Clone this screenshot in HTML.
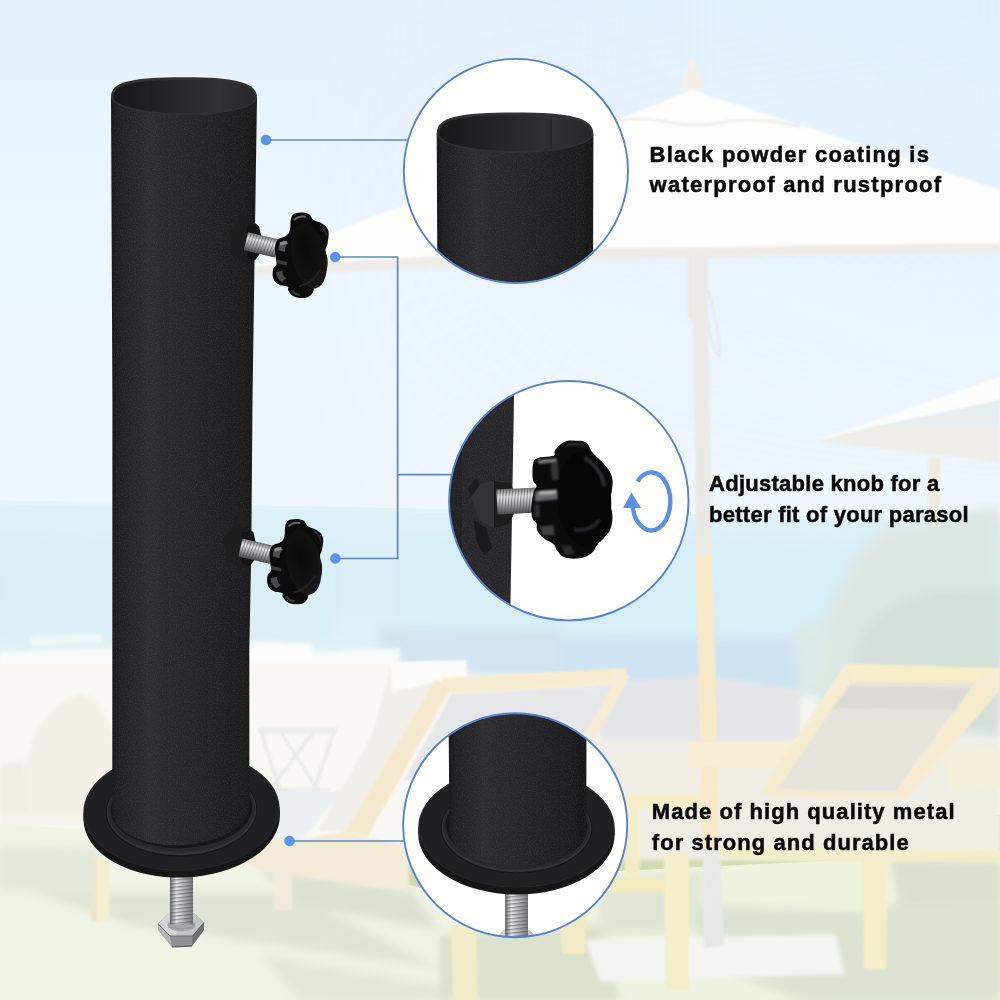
<!DOCTYPE html>
<html lang="en">
<head>
<meta charset="utf-8">
<title>Parasol base tube features</title>
<style>
html,body{margin:0;padding:0;background:#fff;}
body{width:1000px;height:1000px;position:relative;overflow:hidden;font-family:"Liberation Sans",Arial,sans-serif;}
#art{position:absolute;left:0;top:0;width:1000px;height:1000px;display:block;}
.cap{position:absolute;margin:0;font-weight:700;font-size:22px;color:#0a0a0a;white-space:nowrap;line-height:29px;-webkit-text-stroke:0.5px #0a0a0a;}
#cap1{left:649.6px;top:139.8px;letter-spacing:1.25px;line-height:29.7px;}
#cap2{left:709.1px;top:468.8px;letter-spacing:0.26px;line-height:30.7px;}
#cap3{left:651.8px;top:797.2px;letter-spacing:1.06px;line-height:30.4px;}
</style>
</head>
<body>
<svg id="art" width="1000" height="1000" viewBox="0 0 1000 1000">
<defs>
  <linearGradient id="sky" x1="0" y1="0" x2="0" y2="1">
    <stop offset="0" stop-color="#e4f2fd"/>
    <stop offset="0.5" stop-color="#ebf5fe"/>
    <stop offset="1" stop-color="#eff7fd"/>
  </linearGradient>
  <linearGradient id="skyR" x1="0" y1="0" x2="1" y2="0">
    <stop offset="0.3" stop-color="#d8eefe" stop-opacity="0"/>
    <stop offset="1" stop-color="#d8eefe" stop-opacity="0.35"/>
  </linearGradient>
  <linearGradient id="skyRfade" x1="0" y1="0" x2="0" y2="1">
    <stop offset="0" stop-color="#fff" stop-opacity="1"/>
    <stop offset="1" stop-color="#fff" stop-opacity="0"/>
  </linearGradient>
  <mask id="skyRm"><rect x="0" y="0" width="1000" height="520" fill="url(#skyRfade)"/></mask>
  <linearGradient id="sea" x1="0" y1="0" x2="0" y2="1">
    <stop offset="0" stop-color="#dcf0f7"/>
    <stop offset="0.5" stop-color="#d9eef5"/>
    <stop offset="1" stop-color="#e3f2f5"/>
  </linearGradient>
  <linearGradient id="grass" x1="0" y1="0" x2="0" y2="1">
    <stop offset="0" stop-color="#d6dfbc"/>
    <stop offset="0.5" stop-color="#ced8a8"/>
    <stop offset="1" stop-color="#d1dba8"/>
  </linearGradient>
  <linearGradient id="grassH" x1="0" y1="0" x2="1" y2="0">
    <stop offset="0" stop-color="#f0f4e6"/>
    <stop offset="0.5" stop-color="#eff3e2"/>
    <stop offset="1" stop-color="#eef3dc"/>
  </linearGradient>
  <filter id="b2" x="-10%" y="-10%" width="120%" height="120%"><feGaussianBlur stdDeviation="2"/></filter>
  <filter id="b4" x="-10%" y="-10%" width="120%" height="120%"><feGaussianBlur stdDeviation="4"/></filter>
  <filter id="b05" x="-20%" y="-20%" width="140%" height="140%"><feGaussianBlur stdDeviation="0.5"/></filter>
  <filter id="b1" x="-10%" y="-10%" width="120%" height="120%"><feGaussianBlur stdDeviation="0.8"/></filter>
  
  <filter id="grain" x="0" y="0" width="100%" height="100%" color-interpolation-filters="sRGB">
    <feTurbulence type="fractalNoise" baseFrequency="0.85" numOctaves="2" seed="4" result="n"/>
    <feColorMatrix in="n" type="matrix" values="0 0 0 0 1  0 0 0 0 1  0 0 0 0 1  0.6 0.6 0 0 -0.52" result="a"/>
    <feComposite in="a" in2="SourceGraphic" operator="in"/>
  </filter>
  <linearGradient id="tubeG" x1="0" y1="0" x2="1" y2="0">
    <stop offset="0" stop-color="#161617"/>
    <stop offset="0.05" stop-color="#202022"/>
    <stop offset="0.25" stop-color="#2d2d2f"/>
    <stop offset="0.5" stop-color="#272729"/>
    <stop offset="0.8" stop-color="#1f1f21"/>
    <stop offset="1" stop-color="#171718"/>
  </linearGradient>
  <linearGradient id="tubeIn" x1="0" y1="0" x2="1" y2="0">
    <stop offset="0" stop-color="#171718"/>
    <stop offset="0.35" stop-color="#242426"/>
    <stop offset="0.75" stop-color="#323234"/>
    <stop offset="1" stop-color="#262628"/>
  </linearGradient>
  <linearGradient id="steelV" x1="0" y1="0" x2="0" y2="1">
    <stop offset="0" stop-color="#77777a"/>
    <stop offset="0.3" stop-color="#ececed"/>
    <stop offset="0.55" stop-color="#b9b9bb"/>
    <stop offset="1" stop-color="#4d4d50"/>
  </linearGradient>
  <linearGradient id="steelH" x1="0" y1="0" x2="1" y2="0">
    <stop offset="0" stop-color="#6c6c6f"/>
    <stop offset="0.28" stop-color="#e6e6e7"/>
    <stop offset="0.6" stop-color="#b4b4b6"/>
    <stop offset="1" stop-color="#78787b"/>
  </linearGradient>
  <pattern id="thrV" width="3" height="30" patternUnits="userSpaceOnUse" patternTransform="rotate(8)">
    <rect x="0" y="0" width="1.1" height="30" fill="#3a3a3d" opacity="0.5"/>
  </pattern>
  <pattern id="thrH" width="30" height="3.6" patternUnits="userSpaceOnUse" patternTransform="rotate(-6)">
    <rect x="0" y="0" width="30" height="1.3" fill="#4a4a4d" opacity="0.5"/>
  </pattern>
  <radialGradient id="knobFace" cx="0.45" cy="0.4" r="0.65">
    <stop offset="0" stop-color="#0a0a0b"/>
    <stop offset="0.7" stop-color="#121213"/>
    <stop offset="1" stop-color="#1e1e20"/>
  </radialGradient>
  <!-- flange, centred on (0,0): top ellipse rx 98.2 ry 60, thickness 7 -->
  <g id="flangeAsm">
    <ellipse cx="0" cy="7" rx="98.2" ry="60" fill="#161617"/>
    <rect x="-98.2" y="0" width="196.4" height="7" fill="#161617"/>
    <ellipse cx="0" cy="0" rx="98.2" ry="60" fill="#2b2b2d"/>
    <ellipse cx="0" cy="0.3" rx="97" ry="59" fill="#202022"/>
    <ellipse cx="0" cy="0.6" rx="75.8" ry="45.4" fill="#141415"/>
    <ellipse cx="0" cy="0.3" rx="74.8" ry="44.4" fill="#343436"/>
    <ellipse cx="0" cy="-0.6" rx="73.6" ry="42.6" fill="#29292b"/>
    <ellipse cx="0" cy="-1.6" rx="70.8" ry="39.2" fill="#161617"/>
  </g>
  <!-- bolt, origin at flange centre (main coords 181.5,810.5) -->
  <g id="boltAsm" transform="translate(-181.5 -810.5)">
    <rect x="170" y="870" width="23" height="58" fill="url(#steelH)"/>
    <rect x="170" y="870" width="23" height="58" fill="url(#thrH)"/>
    <!-- hex head -->
    <path d="M158.2 924 L169 913 L194 913 L204 922.5 L204 930 L192 946 L172 947 L158.2 930 Z" fill="#8a8a8c"/>
    <path d="M158.2 924 L169 913 L194 913 L204 922.5 L192.5 936 L170 936 Z" fill="#c2c2c4"/>
    <path d="M158.2 924 L169 913 L181 913 L176 936 L170 936 Z" fill="#d4d4d6"/>
    <path d="M158.2 924 L170 936 L172 947 L158.2 930 Z" fill="#b2b2b4"/>
    <path d="M170 936 L192.5 936 L192 946 L172 947 Z" fill="#909092"/>
    <path d="M192.5 936 L204 922.5 L204 930 L192 946 Z" fill="#6f6f72"/>
    <path d="M158.2 924 L170 936 L192.5 936 L204 922.5" stroke="#5a5a5d" stroke-width="0.8" fill="none"/>
    <path d="M172 947 L192 946" stroke="#4a4a4d" stroke-width="1" fill="none"/>
    <ellipse cx="181.5" cy="925" rx="14" ry="6.2" fill="#a2a2a4"/>
    <ellipse cx="181.5" cy="924.2" rx="12" ry="4.8" fill="#8c8c8e"/>
    <rect x="170" y="900" width="23" height="24.5" fill="url(#steelH)"/>
    <rect x="170" y="900" width="23" height="24.5" fill="url(#thrH)"/>
    <path d="M170 924.5 A11.5 4 0 0 0 193 924.5 Z" fill="#a8a8aa"/>
  </g>
  <g id="knobAsm">
    <!-- welded nut on tube -->
    <path d="M229 232 L238 222 L241 208 L246 221 L252 221 L259 226 L261.5 238 L261 252 L255 260 L243 261 L232 254 Z" fill="#1d1d1e"/>
    <path d="M247 226 L258 225.5 L261.5 238 L261 252 L255 260 L247 258 Z" fill="#131314"/>
    <!-- screw -->
    <g transform="rotate(13 246 241)">
      <rect x="246" y="232" width="32" height="18.5" fill="url(#steelV)"/>
      <rect x="246" y="232" width="32" height="18.5" fill="url(#thrV)"/>
    </g>
    <use href="#knobOnly"/>
  </g>
  <g id="knobOnly">
    <path d="M291.2 218.0 C292.6 214.5 293.4 213.9 296.8 213.1 C300.2 212.3 304.6 212.4 308.0 213.8 C311.4 215.2 310.8 218.1 313.6 220.1 C316.4 222.1 319.1 221.5 322.0 223.6 C324.9 225.7 327.2 226.7 328.3 230.6 C329.4 234.5 328.2 239.3 327.6 243.2 C327.0 247.1 325.5 246.8 325.5 250.2 C325.5 253.6 327.5 255.8 327.6 260.0 C327.7 264.2 327.6 267.3 326.2 271.2 C324.8 275.1 322.8 276.8 320.6 279.6 C318.4 282.4 316.7 282.4 315.0 285.2 C313.3 288.0 314.2 291.1 312.2 293.6 C310.2 296.1 308.8 297.2 305.2 297.8 C301.6 298.4 297.4 297.8 294.0 296.4 C290.6 295.0 289.7 292.8 288.4 290.8 C287.1 288.8 289.4 287.7 287.7 286.6 C286.0 285.5 282.8 286.6 280.0 285.2 C277.2 283.8 275.1 282.7 273.7 279.6 C272.3 276.5 272.4 272.9 273.0 269.8 C273.6 266.7 275.9 266.7 276.5 264.2 C277.1 261.7 276.1 260.8 275.8 257.2 C275.5 253.6 274.5 249.6 275.1 246.0 C275.7 242.4 276.5 241.0 278.6 239.0 C280.7 237.0 283.4 237.9 285.6 236.2 C287.8 234.5 288.7 234.2 289.8 230.6 C290.9 227.0 289.8 221.5 291.2 218.0Z" fill="#0c0c0d"/>
    <ellipse cx="309" cy="256" rx="17" ry="33" transform="rotate(-12 309 256)" fill="url(#knobFace)"/>
    <!-- highlights -->
    <g filter="url(#b05)">
    <path d="M294.5 219.5 Q299 215.5 305 216.8" stroke="#8a8a8d" stroke-width="2" fill="none" stroke-linecap="round" opacity="0.7"/>
    <path d="M278.5 250 Q278 243.5 283 240.5 L288.5 243 Q284.5 246 285 252 Z" fill="#5a5a5d" opacity="0.85"/>
    <path d="M279.5 242.5 L286.5 240.5 L287.5 243.5 L280.5 245.5 Z" fill="#a5a5a8" opacity="0.7"/>
    <path d="M276.5 259.5 L287 262 L286.5 265.5 L276.5 263 Z" fill="#3a3a3d"/>
    <path d="M276 272 Q276.5 279 282 282 L286 278.5 Q282.5 276 282.5 270.5 Z" fill="#55555a" opacity="0.8"/>
    <path d="M292 290.5 Q294 294 299 294.8" stroke="#4a4a4d" stroke-width="2" fill="none" stroke-linecap="round" opacity="0.8"/>
    <path d="M320.5 225.5 Q325 229 326.3 235" stroke="#2c2c2f" stroke-width="1.6" fill="none" stroke-linecap="round"/>
    <path d="M300 286 Q312 284 320 270" stroke="#232326" stroke-width="2" fill="none" stroke-linecap="round"/>
    </g>
  </g>

</defs>

<!-- ============ BACKGROUND ============ -->
<g id="bg">
  <rect x="0" y="0" width="1000" height="522" fill="url(#sky)"/>
  <rect x="0" y="0" width="1000" height="520" fill="url(#skyR)" mask="url(#skyRm)"/>
  <path d="M0 500.5 L1000 520 L1000 680 L0 680 Z" fill="url(#sea)"/>
  <rect x="0" y="655" width="1000" height="175" fill="#f7f6f3"/>
  <rect x="0" y="815" width="1000" height="185" fill="url(#grass)"/>
    <!-- ===== sea ===== -->
  <path d="M0 500.5 L1000 520 L1000 524 L0 504.5 Z" fill="#e2f2f9"/>
  <g filter="url(#b4)">
    <path d="M400 536 L1000 544 L1000 700 L400 664 Z" fill="#d6eef6"/>
    <path d="M540 636 L1000 640 L1000 700 L540 684 Z" fill="#cfe4f3"/>
    <path d="M380 628 L560 630 L560 680 L380 668 Z" fill="#d2e5f0"/>
    <path d="M0 540 L330 546 L330 640 L0 640 Z" fill="#d8eef5" opacity="0.85"/>
  </g>
  <!-- surf / shoreline -->
  <g filter="url(#b2)">
    <path d="M0 652 L110 648 L250 646 L320 652 L400 648 L400 672 L0 672 Z" fill="#f8faf9"/>
    <path d="M250 642 L312 644 L314 658 L250 660 Z" fill="#fbfcfb"/>
    <path d="M30 636 L100 634 L104 642 L30 646 Z" fill="#f2f8f8"/>
  </g>

  <!-- ===== big umbrella canopy ===== -->
  <g filter="url(#b1)">
    <!-- finial -->
    <circle cx="692" cy="64" r="4.2" fill="#f6f1ec"/>
    <path d="M688 68 C684 72 681 78 682 84 C683 88 686 90 686 93 L698 93 C698 90 702 88 703 84 C704 78 700 72 696 68 Z" fill="#f5efe9"/>
    <path d="M692 90 L256 263 L256 276 L600 259 L1000 249 L1000 190 Z" fill="#fdfdfb"/>
    <path d="M256 276 L600 259.5 L1000 252 L1000 243 L600 248 L256 266 Z" fill="#efece7"/>
    <path d="M620 120 Q650 117 672 123 Q700 128 730 121 Q770 118 800 127" stroke="#eeedea" stroke-width="3" fill="none"/>
    <!-- pole upper -->
    <path d="M688 256 L708 256 L708 322 L712.4 556 L696 556 L693 322 L688 318 Z" fill="#ebe9e5"/>
    <path d="M708 290 Q722 340 719 356 Q712 350 708 320" stroke="#e4e2de" stroke-width="1.5" fill="none"/>
  </g>

  <!-- ===== second umbrella (right) ===== -->
  <g filter="url(#b1)">
    <rect x="928" y="458" width="12" height="82" fill="#f1ebdf"/>
    <path d="M814 441 L876 426 L1000 426 L1000 462 Z" fill="#eeede8"/>
    <path d="M814 441 L1000 377 L1000 400 L876 426 Z" fill="#fcfcfa"/>
    <path d="M876 426 L1000 400 L1000 426 Z" fill="#e6eef2"/>
  </g>

  <!-- ===== tree on right ===== -->
  <g filter="url(#b4)">
    <path d="M815 680 C812 640 830 600 850 570 C858 545 880 528 910 524 C940 520 960 508 1000 508 L1000 740 L820 722 Z" fill="#dde7e2"/>
    <path d="M860 640 C880 600 930 585 1000 590 L1000 732 L850 718 Z" fill="#d4dfd8"/>
    <path d="M790 640 C800 620 815 615 825 625 C830 650 820 690 800 700 Z" fill="#dfe9e6" opacity="0.8"/>
  </g>

  <!-- ===== sand / terrace band ===== -->
  <path d="M0 664 L400 664 L430 700 L430 850 L0 830 Z" fill="#f9f8f5"/>
  <!-- grey band behind chairs (right) -->
  <g filter="url(#b2)">
    <path d="M600 684 L700 674 L800 690 L800 770 L600 770 Z" fill="#e3e5e8"/>
    <path d="M560 740 L1000 740 L1000 860 L560 860 Z" fill="#efeee6"/>
  </g>

  <!-- ===== left: wicker pod + low wall ===== -->
  <g filter="url(#b2)">
    <path d="M24 818 C18 750 40 706 80 694 C104 698 122 730 120 818 Z" fill="#f4efe8"/>
    <path d="M0 764 L24 762 L26 815 L0 815 Z" fill="#f0ece6"/>
    <path d="M0 812 L130 814 L130 826 L0 826 Z" fill="#f5f2ea"/>
  </g>

  <!-- ===== grass ===== -->
  <path d="M0 824 L250 838 L420 888 L600 872 L1000 852 L1000 1000 L0 1000 Z" fill="url(#grassH)"/>
  <g filter="url(#b4)">
    <!-- left pale shadows -->
    <path d="M0 846 L100 848 L100 892 L0 890 Z" fill="#e3e8dd"/>
    <path d="M30 892 L290 892 L440 968 L130 925 Z" fill="#dfe5d6"/>
    <path d="M260 870 L410 890 L440 930 L300 905 Z" fill="#dce2d2"/>
    <path d="M260 955 L440 985 L440 1000 L300 1000 Z" fill="#e2e7d8"/>
    <!-- under circle 3 -->
    <path d="M440 935 L600 925 L620 1000 L440 1000 Z" fill="#dae1cc"/>
    <!-- right shadows -->
    <path d="M700 905 L860 912 L1000 880 L1000 1000 L800 1000 L700 960 Z" fill="#dde3d2"/>
    <path d="M890 858 L1000 862 L1000 900 L900 905 Z" fill="#dae0ce"/>
    <path d="M600 880 L700 872 L700 930 L600 935 Z" fill="#e0e6d4"/>
  </g>
  <!-- concrete slab -->
  <path d="M585 940 L835 934 L845 974 L600 982 Z" fill="#f4f4f1" filter="url(#b2)"/>

  <!-- ===== middle chaise (behind circle 3) ===== -->
  <g filter="url(#b1)">
    <!-- side table -->
    <path d="M258 727 L337 727 L337 734 L258 734 Z" fill="#eceeed"/>
    <path d="M262 734 L280 790 M333 734 L314 790 M282 734 L318 790 M312 734 L270 790 M262 790 H330" stroke="#e6e9e8" stroke-width="3" fill="none"/>
    <!-- bed surface -->
    <path d="M240 792 L345 790 L300 842 L240 842 Z" fill="#eef1f3"/>
    <!-- cushion strip + pillow -->
    <path d="M390 668 L435 680 L345 832 L318 830 L372 735 Z" fill="#f1efe9"/>
    <path d="M390 662 L466 660 L468 680 L436 682 L392 692 Z" fill="#fbfbf9"/>
    <!-- back frame -->
    <path d="M435 680 L452 686 L368 836 L345 832 Z" fill="#f4e9cc"/>
    <path d="M440 678 L626 668 L628 684 L452 694 Z" fill="#f5ecd0"/>
    <path d="M614 672 L630 676 L580 770 L566 766 Z" fill="#f4ecd4"/>
    <path d="M452 694 L612 686 L560 780 L404 780 Z" fill="#e6e7e8"/>
    <!-- seat rail -->
    <path d="M240 838 L300 840 L344 832 L409 846 L409 892 L262 870 L240 862 Z" fill="#f3ead8"/>
    <!-- legs -->
    <rect x="274" y="868" width="18" height="42" fill="#f2ebdc"/>
    <path d="M451 926 L476 926 L478 1000 L453 1000 Z" fill="#f2ebc8"/>
    <rect x="91" y="858" width="18" height="64" fill="#f4edd0"/><rect x="91" y="858" width="6" height="64" fill="#ece6cc"/>
  </g>

  <!-- ===== furniture right of circle 3 ===== -->
  <g filter="url(#b1)">
    <path d="M616 768 L700 768 L700 796 L616 796 Z" fill="#f0eee5"/>
    <path d="M625 794 L703 794 L703 808 L625 808 Z" fill="#f5eec8"/>
    <path d="M625 808 L640 808 L640 880 L625 880 Z" fill="#f3ecca"/>
    <path d="M605 878 L689 878 L689 892 L605 892 Z" fill="#f3eac0"/>
    <path d="M664 853 L689 853 L689 990 L666 990 Z" fill="#f4eecb"/>
    <path d="M560 909 L586 909 L586 954 L562 954 Z" fill="#f2ebc6"/>
    <path d="M703 847 L1000 850 L1000 862 L703 860 Z" fill="#f3edc9"/>
  </g>

  <!-- pole lower (yellow then grey) -->
  <g filter="url(#b1)">
    <path d="M696 555 L712.4 555 L717 740 L719 850 L703 850 L700 740 Z" fill="#f6e9c8"/>
    <path d="M702 848 L720 848 L724 946 L704 948 Z" fill="#e7e8e5"/>
  </g>

  <!-- ===== right lounge chair ===== -->
  <g filter="url(#b1)">
    <!-- horizontal boards left of the back -->
    <path d="M688 742 L790 742 L780 768 L688 768 Z" fill="#f6efd4"/>
    <!-- fabric -->
    <path d="M856 676 L990 678 L896 794 L764 792 Z" fill="#e6e3dc"/>
    <path d="M850 686 L984 688 L966 710 L832 708 Z" fill="#dcdad4"/>
    <!-- frame -->
    <path d="M846 664 L860 668 L776 792 L762 788 Z" fill="#f5ecd0"/>
    <path d="M850 664 L1000 668 L1000 684 L852 682 Z" fill="#f7edc8"/>
    <path d="M986 668 L1000 672 L1000 690 L906 800 L892 796 Z" fill="#f5ecd0"/>
    <!-- base frame -->
    <path d="M760 788 L896 792 L896 800 L760 796 Z" fill="#f4ecd0"/>
    <path d="M863 853 L888 853 L886 970 L864 970 Z" fill="#f3edca"/>
    <!-- far right chair bits -->
    <path d="M944 752 L1000 750 L1000 790 L950 792 Z" fill="#f4efd8"/>
  </g>

</g>

<!-- ============ PRODUCT ============ -->
<g id="product">
  
  <!-- flange + bolt -->
  <use href="#boltAsm" transform="translate(181.5 810.5)"/>
  <use href="#flangeAsm" transform="translate(181.5 810.5) rotate(-1.7)"/>
  <!-- tube body -->
  <path d="M111 96 L112.4 400 L112.3 815 A68.8 36.5 -3 0 0 249.4 806 L249.3 650 L251.3 550 L252.5 400 L254.8 240 L257 97 Z" fill="url(#tubeG)"/>
  <path d="M111 96 L112.3 815 A68.8 36.5 -3 0 0 249.4 806 L257 97 Z" fill="#fff" filter="url(#grain)" opacity="0.2"/>
  <!-- tube top opening -->
  <path d="M111 96.5 C111 82 131 77.3 184 77.3 C237 77.3 257 83 257 97.5 C257 108 224 115.2 184 115.2 C144 115.2 111 107 111 96.5 Z" fill="#323234"/>
  <path d="M113.2 97 C113.2 84.5 133 80 184 80 C235 80 254.8 85.5 254.8 98 C254.8 107 222 113.3 184 113.3 C146 113.3 113.2 106 113.2 97 Z" fill="url(#tubeIn)"/>
  <path d="M151 82 V110.5" stroke="#161617" stroke-width="0.8" opacity="0.7"/>
  <!-- knobs -->
  <use href="#knobAsm"/>
  <use href="#knobAsm" transform="translate(-5.5 306.3)"/>

</g>

<!-- ============ CALLOUT LINES ============ -->
<g id="lines" fill="none" stroke="#5c86c9" stroke-width="1.7">
    <path d="M266 140 H409"/>
  <path d="M335 257 H397.6 V558.5 H335"/>
  <path d="M397.6 474.6 H452"/>
  <path d="M289.5 841 H405"/>
  <g fill="#5a94f0" stroke="#4f84dc" stroke-width="0.6">
    <circle cx="266" cy="140" r="4.9"/>
    <circle cx="335.2" cy="257" r="4.9"/>
    <circle cx="335.4" cy="558.5" r="4.9"/>
    <circle cx="289.5" cy="841" r="4.9"/>
  </g>

</g>

<!-- ============ CIRCLES ============ -->
<g id="circles">
    <clipPath id="cp1"><circle cx="515.9" cy="171" r="111.6"/></clipPath>
  <clipPath id="cp2"><circle cx="568.8" cy="500.7" r="119.2"/></clipPath>
  <clipPath id="cp3"><circle cx="515.2" cy="825.2" r="111.5"/></clipPath>

  <!-- circle 1 : tube top -->
  <circle cx="515.9" cy="171" r="112.1" fill="#ffffff"/>
  <g clip-path="url(#cp1)">
    <path d="M436.7 133.5 L437.5 300 L593 300 L593.4 134 Z" fill="url(#tubeG)"/>
    <path d="M436.7 133.5 L437.5 300 L593 300 L593.4 134 Z" fill="#fff" filter="url(#grain)" opacity="0.2"/>
    <path d="M436.7 133.5 C436.7 117 459 112.6 515 112.6 C571 112.6 593.4 118 593.4 134 C593.4 145 558 152.9 515 152.9 C472 152.9 436.7 145 436.7 133.5 Z" fill="#323234"/>
    <path d="M439 134 C439 119.5 461 115.2 515 115.2 C569 115.2 591.1 120.5 591.1 134.5 C591.1 144 556 150.9 515 150.9 C474 150.9 439 144 439 134 Z" fill="url(#tubeIn)"/>
    <path d="M551 117.5 V149" stroke="#141415" stroke-width="0.8" opacity="0.7"/>
  </g>
  <circle cx="515.9" cy="171" r="112.1" fill="none" stroke="#5682cc" stroke-width="1.9"/>

  <!-- circle 2 : knob -->
  <circle cx="568.8" cy="500.7" r="119.7" fill="#ffffff"/>
  <g clip-path="url(#cp2)">
    <path d="M440 370 L514.5 370 L510 630 L440 630 Z" fill="#272729"/>
    <path d="M440 370 L462 370 L462 630 L440 630 Z" fill="#202022"/>
    <path d="M440 370 L514.5 370 L510 630 L440 630 Z" fill="#fff" filter="url(#grain)" opacity="0.22"/>
    <!-- welded nut -->
    <path d="M471 497 L480 484 L497 480 L511 483 L515 498 L514.5 512 L509 524 L494 528 L479 521 Z" fill="#333335"/>
    <path d="M494 481 L511 483 L515 498 L514.5 512 L509 524 L494 528 Z" fill="#1c1c1d"/>
    <path d="M474 520 L486 528 L492 548 L484 556 L476 540 Z" fill="#1b1b1c"/>
    <path d="M468 488 L476 478 L480 484 L471 497 Z" fill="#1d1d1e"/>
    <!-- screw -->
    <g transform="rotate(-3 498 502)">
      <rect x="497" y="489.5" width="40" height="25" fill="url(#steelV)"/>
      <rect x="497" y="489.5" width="40" height="25" fill="url(#thrV)"/>
    </g>
    <!-- big knob -->

    <!-- big knob (circle 2) -->
    <path d="M555.4 449.7 C557.4 447.1 560.4 443.8 564.4 442.0 C568.4 440.2 570.9 440.6 575.2 440.7 C579.5 440.8 582.4 440.0 586.0 442.5 C589.6 445.0 589.4 448.8 593.2 453.3 C597.0 457.8 601.1 460.1 604.9 465.0 C608.7 469.9 610.8 472.2 612.1 477.6 C613.4 483.0 612.2 487.5 611.6 492.0 C610.9 496.5 608.9 495.8 609.0 500.1 C609.2 504.4 611.9 508.0 612.3 513.6 C612.6 519.2 612.5 523.1 610.8 528.0 C609.2 532.9 606.6 534.7 604.0 537.9 C601.4 541.1 600.2 541.1 597.7 544.2 C595.2 547.3 595.0 550.4 591.4 553.2 C587.8 556.0 585.1 557.4 579.7 558.2 C574.3 559.0 568.9 558.7 564.4 557.2 C559.9 555.6 559.4 553.1 557.2 550.5 C555.0 547.9 556.1 546.5 553.6 544.2 C551.1 541.9 547.8 541.5 544.6 538.8 C541.4 536.1 539.0 533.8 537.4 530.7 C535.8 527.6 537.5 526.0 536.5 523.5 C535.5 521.0 533.4 521.5 532.4 518.1 C531.4 514.7 531.2 511.6 531.5 506.4 C531.7 501.2 532.8 496.1 533.8 492.0 C534.8 487.9 536.7 488.2 536.5 485.7 C536.3 483.2 533.6 483.7 532.9 479.4 C532.2 475.1 532.2 468.3 533.1 464.1 C534.0 459.9 534.0 459.7 537.4 458.2 C540.8 456.6 546.6 457.2 550.0 456.5 C553.4 455.9 553.4 456.5 554.5 455.1 C555.6 453.7 553.4 452.3 555.4 449.7Z" fill="#0b0b0c"/>
    <ellipse cx="584.2" cy="499.2" rx="27.0" ry="47.2" transform="rotate(-4 584.2 499.2)" fill="#070708"/>
    <g filter="url(#b1)">
      <path d="M537.8 460.0 L556.3 458.2 L557.2 461.8 L538.5 463.9 Z" fill="#8e8e91" opacity="0.85"/>
      <path d="M550.9 463.2 L558.1 462.5 L558.6 479.4 L551.8 480.3 Z" fill="#3a3a3d" opacity="0.9"/>
      <path d="M535.2 491.6 L557.2 489.8 L557.6 499.2 L534.7 501.4 Z" fill="#77777a" opacity="0.85"/>
      <path d="M539.2 491.1 L556.3 489.8 L556.5 493.4 L539.2 494.9 Z" fill="#c4c4c6" opacity="0.8"/>
      <path d="M533.8 504.6 L539.2 504.2 L540.1 517.2 L534.7 517.2 Z" fill="#2e2e31"/>
      <path d="M540.1 526.2 L553.6 525.3 L554.5 535.2 L541.9 535.2 Z" fill="#4a4a4d" opacity="0.85"/>
      <path d="M560.8 546.0 L569.8 545.1 L575.2 554.1 L565.3 555.0 Z" fill="#333336" opacity="0.8"/>
      <path d="M586.0 458.7 Q602.2 470.4 604.0 484.8" stroke="#2d2d30" stroke-width="4" fill="none" stroke-linecap="round"/>
      <path d="M575.2 529.8 Q589.6 531.6 598.6 520.8" stroke="#2a2a2d" stroke-width="3.5" fill="none" stroke-linecap="round"/>
      <path d="M566.2 445.2 Q575.2 443.0 584.2 445.2" stroke="#38383b" stroke-width="2" fill="none" stroke-linecap="round"/>
    </g>
    <!-- rotate arrow -->
    <path d="M637.5 481.5 A19 29 0 1 1 632.8 508" fill="none" stroke="#5b8fe6" stroke-width="4.4"/>
    <path d="M631.5 492.5 L641 508 L623 508 Z" fill="#5b8fe6"/>
  </g>
  <circle cx="568.8" cy="500.7" r="119.7" fill="none" stroke="#5682cc" stroke-width="1.9"/>

  <!-- circle 3 : flange -->
  <circle cx="515.2" cy="825.2" r="112" fill="#ffffff"/>
  <g clip-path="url(#cp3)">
    <use href="#boltAsm" transform="translate(516.5 827.5)"/>
    <use href="#flangeAsm" transform="translate(516.5 827.5) rotate(0.5)"/>
    <path d="M448.5 700 L449.4 831 A68.6 37 0 0 0 586.3 833 L586.5 700 Z" fill="url(#tubeG)"/>
    <path d="M448.5 700 L449.4 831 A68.6 37 0 0 0 586.3 833 L586.5 700 Z" fill="#fff" filter="url(#grain)" opacity="0.2"/>
  </g>
  <circle cx="515.2" cy="825.2" r="112" fill="none" stroke="#5682cc" stroke-width="1.9"/>

</g>
</svg>

<p class="cap" id="cap1">Black powder coating is<br>waterproof and rustproof</p>
<p class="cap" id="cap2">Adjustable knob for a<br>better fit of your parasol</p>
<p class="cap" id="cap3">Made of high quality metal<br>for strong and durable</p>
</body>
</html>
